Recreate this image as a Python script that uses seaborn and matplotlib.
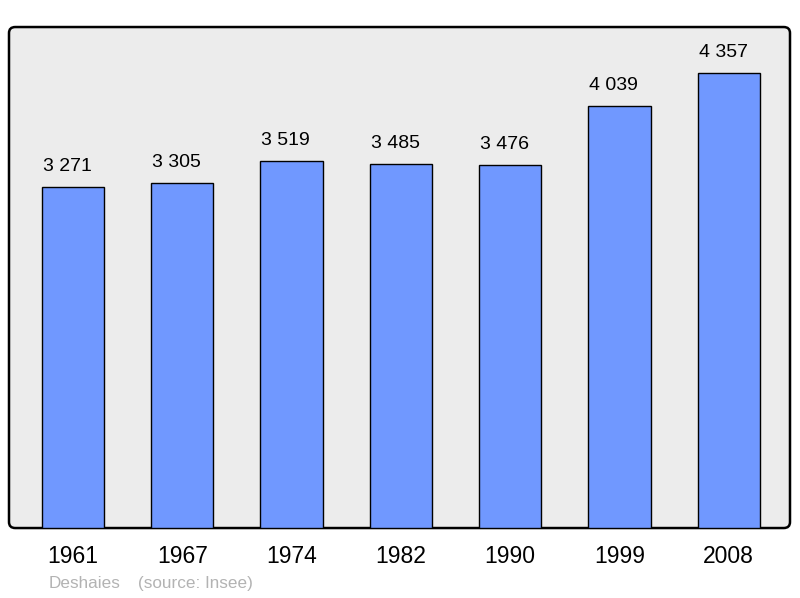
import pandas as pd
import seaborn as sns
import matplotlib.pyplot as plt
from matplotlib.patches import FancyBboxPatch

# Données de population
years = ['1961', '1967', '1974', '1982', '1990', '1999', '2008']
population = [3271, 3305, 3519, 3485, 3476, 4039, 4357]

df = pd.DataFrame({'Année': years, 'Population': population})

sns.set_style("white")
plt.rcParams['font.family'] = ['Liberation Sans', 'DejaVu Sans']
plt.rcParams['text.color'] = 'black'
plt.rcParams['xtick.color'] = 'black'

fig = plt.figure(figsize=(8, 5.98), dpi=100)
ax = fig.add_axes([0.01125, 0.117, 0.97625, 0.8378])

sns.barplot(data=df, x='Année', y='Population', color='#7098ff',
            edgecolor='black', linewidth=1.0, width=0.57, saturation=1, ax=ax)

# Fond gris avec coins arrondis
ax.patch.set_visible(False)
for s in ax.spines.values():
    s.set_visible(False)
bg = FancyBboxPatch((0, 0), 1, 1, boxstyle="round,pad=0,rounding_size=0.008",
                    transform=ax.transAxes, facecolor='#ececec',
                    edgecolor='black', linewidth=1.8, zorder=0, clip_on=False,
                    mutation_aspect=1.5)
ax.add_patch(bg)

ax.set_xlim(-0.585, 6.56)
ax.set_ylim(0, 4800)
ax.set_yticks([])
ax.set_xlabel('')
ax.set_ylabel('')
ax.tick_params(axis='x', length=0, pad=12.5, labelsize=16.5, labelcolor='black')

# Étiquettes au-dessus des barres
for bar, val in zip(ax.patches, population):
    label = f'{val:,}'.replace(',', ' ')
    ax.annotate(label, (bar.get_x() + 0.01, bar.get_height()),
                xytext=(0, 11.5), textcoords='offset points',
                ha='left', va='baseline', fontsize=14, color='black')

fig.text(49 / 800, 1 - 588 / 598, 'Deshaies', color='#b3b3b3',
         fontsize=12.3, va='baseline')
fig.text(138 / 800, 1 - 588 / 598, '(source: Insee)', color='#b3b3b3',
         fontsize=12.3, va='baseline')

plt.savefig('out.png', dpi=100)
